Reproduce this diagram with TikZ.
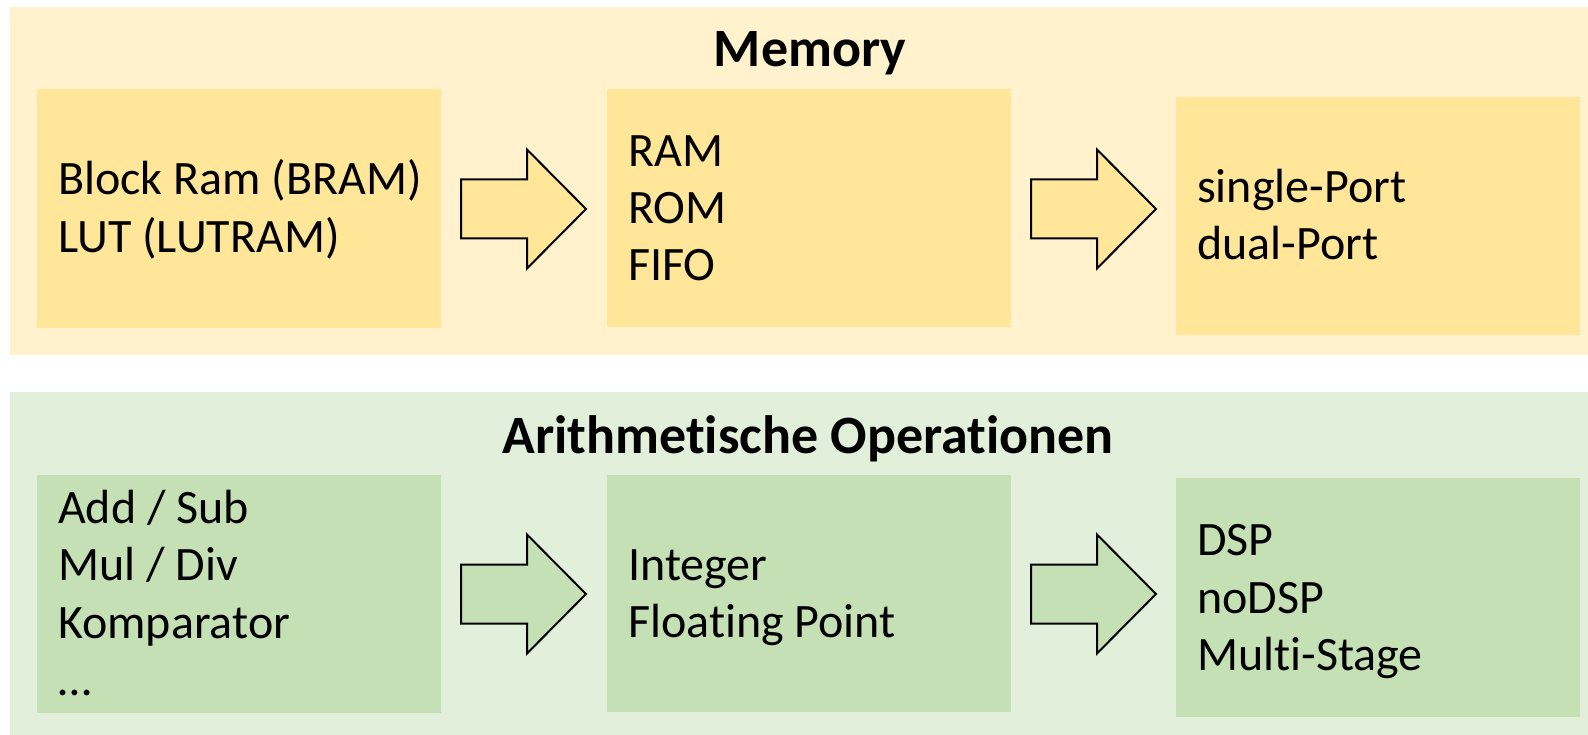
\documentclass[tikz,border=0pt]{standalone}
\usepackage{fontspec}
\setmainfont{Carlito}[Ligatures=NoCommon]
\definecolor{memouter}{HTML}{FFF2CC}
\definecolor{meminner}{HTML}{FFE699}
\definecolor{arouter}{HTML}{E2EFDA}
\definecolor{arinner}{HTML}{C5E0B4}
\begin{document}
\begin{tikzpicture}[x=1pt,y=-1pt,
  panel/.style={draw=none,anchor=north west,inner sep=0pt,minimum width=1578pt},
  box/.style={draw=none,anchor=north west,inner sep=0pt,minimum width=404pt,minimum height=238pt},
  line/.style={anchor=base west,inner sep=0pt,font=\fontsize{48}{56}\selectfont},
  ttl/.style={anchor=base,inner sep=0pt,font=\fontsize{54}{62}\selectfont\bfseries},
  blockarrow/.style={draw=black,line width=2pt,line join=miter}]
\useasboundingbox (0,0) rectangle (1588,735);
% panels
\node[panel,fill=memouter,minimum height=348pt] (mempanel) at (10,7) {};
\node[panel,fill=arouter,minimum height=343pt] (arpanel) at (10,392) {};
% titles
\node[ttl] (memtitle) at (810,67) {Memory};
\node[ttl] (artitle) at (808,453) {Arithmetische Operationen};
% memory boxes
\node[box,fill=meminner,minimum height=239pt] (m1) at (37,89) {};
\node[box,fill=meminner] (m2) at (607,89) {};
\node[box,fill=meminner] (m3) at (1176,97) {};
% arithmetic boxes
\node[box,fill=arinner] (a1) at (37,475) {};
\node[box,fill=arinner,minimum height=237pt] (a2) at (607,475) {};
\node[box,fill=arinner,minimum height=239pt] (a3) at (1176,478) {};
% texts memory
\node[line] (m1a) at (58,195) {Block Ram (BRAM)};
\node[line] (m1b) at (58,253) {LUT (LUTRAM)};
\node[line] (m2a) at (628,167) {RAM};
\node[line] (m2b) at (628,224) {ROM};
\node[line] (m2c) at (628,281) {FIFO};
\node[line] (m3a) at (1197,203) {single-Port};
\node[line] (m3b) at (1197,260) {dual-Port};
% texts arithmetic
\node[line] (a1a) at (58,523) {Add / Sub};
\node[line] (a1b) at (58,580) {Mul / Div};
\node[line] (a1c) at (58,638) {Komparator};
\node[line] (a1d) at (58,695) {…};
\node[line] (a2a) at (628,580) {Integer};
\node[line] (a2b) at (628,637) {Floating Point};
\node[line] (a3a) at (1197,555) {DSP};
\node[line] (a3b) at (1197,613) {noDSP};
\node[line] (a3c) at (1197,670) {Multi-Stage};
% block arrows
\newcommand{\blkarrow}[3]{% x start, center y, fill
  \draw[blockarrow,fill=#3] (#1,#2-29.5) -- (#1+66,#2-29.5) -- (#1+66,#2-59.5)
    -- (#1+125,#2) -- (#1+66,#2+59.5) -- (#1+66,#2+29.5) -- (#1,#2+29.5) -- cycle;}
\blkarrow{461}{209}{meminner}
\blkarrow{1031}{209}{meminner}
\blkarrow{461}{594}{arinner}
\blkarrow{1031}{594}{arinner}
\end{tikzpicture}
\end{document}
